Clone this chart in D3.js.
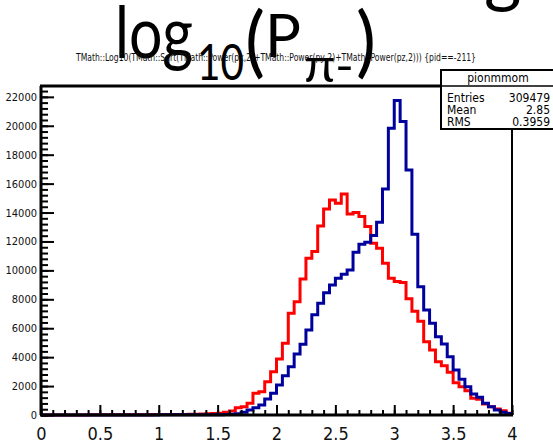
<!DOCTYPE html>
<html lang="en">
<head>
<meta charset="UTF-8">
<script src="https://d3js.org/d3.v7.min.js"></script>
<style>
    body { margin: 0; background: #fff; }
    svg { display: block; }
    .narrow { font-family: "Liberation Sans Narrow", "DejaVu Sans Condensed", Arial, sans-serif; }
    .big { font-family: Lato, "Open Sans", sans-serif; fill: #000; }
</style>
</head>
<body>
<div id="chart"></div>
<script>
    const width = 553, height = 444;
    const margin = { top: 86, right: 41, bottom: 29, left: 41 };

    // histogramme : 80 bins de 0 a 4
    const binEdges = d3.range(81).map(i => i * 0.05);
    const redCounts = [
        0, 0, 0, 5, 5, 6, 8, 8, 10, 10,
        12, 12, 14, 15, 16, 18, 20, 22, 24, 26,
        28, 30, 34, 38, 42, 50, 60, 75, 90, 100,
        115, 184, 277, 507, 576, 809, 1501, 1612, 2304, 2996,
        3874, 4960, 7035, 7838, 9408, 10840, 11300, 13075, 14251, 14874,
        14645, 15289, 13905, 13997, 13720, 13029, 11878, 11532, 10495, 9457,
        9226, 9157, 8040, 7180, 6480, 5072, 4497, 3687, 3411, 2952,
        2236, 1960, 1683, 1153, 1084, 761, 576, 415, 300, 115
    ];
    const blueCounts = [
        0, 0, 0, 0, 0, 0, 0, 0, 2, 2,
        3, 3, 4, 4, 5, 5, 6, 6, 7, 8,
        9, 10, 11, 12, 13, 14, 15, 17, 19, 22,
        25, 40, 60, 92, 184, 346, 507, 692, 1107, 1501,
        2075, 2719, 3341, 4220, 4891, 5880, 6940, 7727, 8461, 8993,
        9457, 9734, 10031, 11255, 11809, 11947, 12406, 13330, 15635, 19834,
        21743, 20291, 16950, 12500, 8877, 7264, 6343, 5419, 4912, 4035,
        3113, 2467, 1960, 1453, 1222, 807, 576, 346, 184, 100
    ];
    const series = [
        { counts: redCounts, color: "#ff0000" },
        { counts: blueCounts, color: "#00009c" }
    ];

    const xTicks = [0, 0.5, 1, 1.5, 2, 2.5, 3, 3.5, 4];
    const yTicks = d3.range(0, 22001, 2000);
    const statsLabels = ["Entries", "Mean", "RMS"];
    const statsValues = ["309479", "2.85", "0.3959"];
    const histName = "pionmmom";
    const drawTitle = "TMath::Log10(TMath::Sqrt(TMath::Power(px,2)+TMath::Power(py,2)+TMath::Power(pz,2))) {pid==-211}";

    const svg = d3.select("#chart").append("svg")
        .attr("width", width).attr("height", height);

    const x = d3.scaleLinear().domain([0, 4]).range([margin.left, width - margin.right]);
    const y = d3.scaleLinear().domain([0, 22750]).range([height - margin.bottom, margin.top]);

    // grand titre (superpose)
    const big = svg.append("g").attr("class", "big");
    big.append("text").attr("x", 115).attr("y", 58).attr("font-size", 72)
        .attr("textLength", 78).attr("lengthAdjust", "spacingAndGlyphs").text("log");
    big.append("text").attr("x", 197).attr("y", 80).attr("font-size", 50)
        .attr("textLength", 47).attr("lengthAdjust", "spacingAndGlyphs").text("10");
    big.append("text").attr("x", 245).attr("y", 68).attr("font-size", 78)
        .attr("textLength", 20).attr("lengthAdjust", "spacingAndGlyphs").text("(");
    big.append("text").attr("x", 265).attr("y", 57).attr("font-size", 60)
        .attr("textLength", 36).attr("lengthAdjust", "spacingAndGlyphs").text("P");
    big.append("text").attr("x", 304).attr("y", 82).attr("font-size", 46)
        .attr("textLength", 50).attr("lengthAdjust", "spacingAndGlyphs").text("π-");
    big.append("text").attr("x", 356).attr("y", 68).attr("font-size", 78)
        .attr("textLength", 20).attr("lengthAdjust", "spacingAndGlyphs").text(")");
    big.append("text").attr("x", 484).attr("y", -1).attr("font-size", 72).text("g");

    // titre ROOT
    svg.append("text").attr("class", "narrow")
        .attr("x", 76).attr("y", 61).attr("font-size", 10.5)
        .attr("textLength", 400).attr("lengthAdjust", "spacingAndGlyphs")
        .attr("fill", "#111").text(drawTitle);

    // histogrammes
    const line = d3.line().curve(d3.curveStepAfter)
        .x(d => x(d[0])).y(d => y(d[1]));
    series.forEach(s => {
        const pts = s.counts.map((c, i) => [binEdges[i], c]);
        pts.push([4, s.counts[s.counts.length - 1]]);
        svg.append("path").datum(pts)
            .attr("fill", "none").attr("stroke", s.color)
            .attr("stroke-width", 3).attr("d", line);
    });

    // axes
    const yAxis = svg.append("g").attr("transform", `translate(${margin.left},0)`)
        .call(d3.axisLeft(y).tickValues(yTicks).tickSizeInner(-13).tickSizeOuter(0)
            .tickPadding(4).tickFormat(d3.format("d")));
    yAxis.selectAll("text").attr("class", "narrow").attr("font-size", 11).attr("fill", "#111");
    svg.append("g").attr("transform", `translate(${margin.left},0)`)
        .call(d3.axisLeft(y).tickValues(d3.range(0, 22700, 400)).tickSize(-7).tickFormat(""));

    const xAxis = svg.append("g").attr("transform", `translate(0,${height - margin.bottom})`)
        .call(d3.axisBottom(x).tickValues(xTicks).tickSizeInner(-10).tickSizeOuter(0)
            .tickPadding(12).tickFormat(d3.format("")));
    xAxis.selectAll("text").attr("class", "narrow").attr("font-size", 18).attr("fill", "#111");
    svg.append("g").attr("transform", `translate(0,${height - margin.bottom})`)
        .call(d3.axisBottom(x).tickValues(d3.range(0, 4.01, 0.1)).tickSize(-5).tickFormat(""));

    svg.selectAll(".tick line").attr("stroke", "#000").attr("stroke-width", 2);
    svg.selectAll(".domain").remove();

    // cadre
    const x0 = x(0), x1 = x(4), yTop = margin.top, yBot = height - margin.bottom;
    svg.append("line").attr("x1", x0 - 1).attr("x2", x1 + 1).attr("y1", yTop).attr("y2", yTop)
        .attr("stroke", "#000").attr("stroke-width", 3);
    svg.append("line").attr("x1", x0 - 1).attr("x2", x1 + 1).attr("y1", yBot).attr("y2", yBot)
        .attr("stroke", "#000").attr("stroke-width", 3);
    svg.append("line").attr("x1", x0).attr("x2", x0).attr("y1", yTop).attr("y2", yBot)
        .attr("stroke", "#000").attr("stroke-width", 3);
    svg.append("line").attr("x1", x1).attr("x2", x1).attr("y1", yTop).attr("y2", yBot)
        .attr("stroke", "#000").attr("stroke-width", 2);

    // boite de stats
    const box = svg.append("g").attr("class", "narrow");
    box.append("rect").attr("x", 441).attr("y", 70).attr("width", 130).attr("height", 59)
        .attr("fill", "#fff").attr("stroke", "#000").attr("stroke-width", 2);
    box.append("line").attr("x1", 441).attr("x2", 553).attr("y1", 86).attr("y2", 86)
        .attr("stroke", "#000").attr("stroke-width", 1.5);
    box.append("text").attr("x", 498).attr("y", 82).attr("text-anchor", "middle")
        .attr("font-size", 12).text(histName);
    statsLabels.forEach((lab, i) => {
        box.append("text").attr("x", 447).attr("y", 102 + i * 12).attr("font-size", 12).text(lab);
        box.append("text").attr("x", 550).attr("y", 102 + i * 12).attr("text-anchor", "end")
            .attr("font-size", 12).text(statsValues[i]);
    });
</script>
</body>
</html>
